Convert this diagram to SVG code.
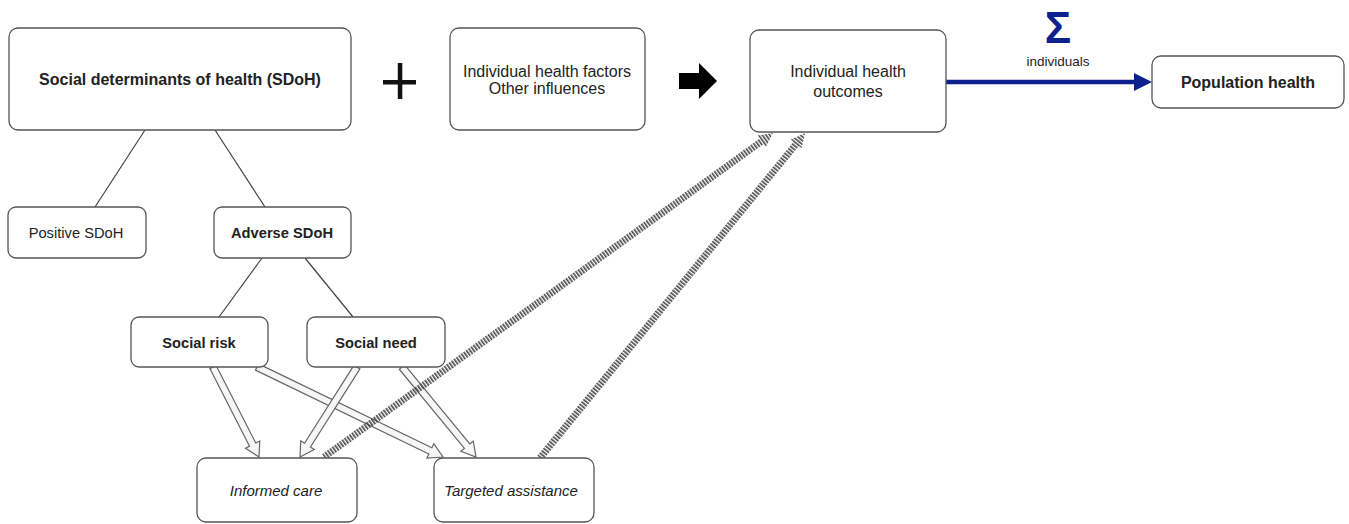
<svg xmlns="http://www.w3.org/2000/svg" width="1349" height="524" viewBox="0 0 1349 524">
<style>
.box{fill:#fff;stroke:#555;stroke-width:1.3}
.t{font-family:"Liberation Sans",Arial,sans-serif;font-size:16px;fill:#222;text-anchor:middle}
.b{font-weight:bold}
.i{font-style:italic;font-size:15px}
.s{font-size:14.7px}
.ln{stroke:#444;stroke-width:1.2;fill:none}
.hollow{fill:#f6f6f6;stroke:#666;stroke-width:1.2;stroke-linejoin:miter}
.hatch{fill:url(#hatch)}
</style>
<defs>
<pattern id="hatch" patternUnits="userSpaceOnUse" width="3" height="20" x="0" y="-10">
<rect x="0" y="0" width="1.6" height="20" fill="#444"/>
</pattern>
</defs>
<rect width="1349" height="524" fill="#fff"/>

<g id="connectors">
<line class="ln" x1="145" y1="130" x2="95" y2="207"/>
<line class="ln" x1="215" y1="130" x2="265" y2="207"/>
<line class="ln" x1="262" y1="258" x2="219" y2="317"/>
<line class="ln" x1="305" y1="258" x2="353" y2="317"/>
<path class="hollow" transform="translate(213,367) rotate(62.93)" d="M0,-3.5H87.1V-8L101.1,0L87.1,8V3.5H0Z"/>
<path class="hollow" transform="translate(257,367) rotate(25.82)" d="M0,-3.5H192.6V-8L206.6,0L192.6,8V3.5H0Z"/>
<path class="hollow" transform="translate(357,367) rotate(122.35)" d="M0,-3.5H92.5V-8L106.5,0L92.5,8V3.5H0Z"/>
<path class="hollow" transform="translate(402,367) rotate(50.57)" d="M0,-3.5H102.5V-8L116.5,0L102.5,8V3.5H0Z"/>
<path class="hatch" transform="translate(324,457) rotate(-35.81)" d="M0,-3.5H539.7V-7L553.7,0L539.7,7V3.5H0Z"/>
<path class="hatch" transform="translate(540,458) rotate(-50.80)" d="M0,-3.5H405.4V-7L419.4,0L405.4,7V3.5H0Z"/>
<line x1="946" y1="82" x2="1137" y2="82" stroke="#0e1f8e" stroke-width="4.5"/>
<polygon points="1134,73 1152,82 1134,91" fill="#0e1f8e"/>
<text x="1058" y="43" font-family="Liberation Sans,Arial,sans-serif" font-size="44" font-weight="bold" fill="#0e1f8e" text-anchor="middle">Σ</text>
<text class="t" x="1058" y="66" style="font-size:13.5px">individuals</text>
</g>

<g id="plus">
<rect x="383" y="80" width="33" height="4.5" fill="#111"/>
<rect x="397.8" y="63" width="4.5" height="36" fill="#111"/>
</g>
<g id="implies">
<polygon points="679,73 699,73 699,63 717,81 699,99 699,89 679,89" fill="#000"/>
</g>

<g id="sdoh"><rect class="box" x="9" y="28" width="342" height="102" rx="9"/><text class="t b" x="180" y="85">Social determinants of health (SDoH)</text></g>
<g id="factors"><rect class="box" x="450" y="28" width="195" height="102" rx="9"/><text class="t" x="547" y="77">Individual health factors</text><text class="t" x="547" y="94">Other influences</text></g>
<g id="outcomes"><rect class="box" x="750" y="30" width="196" height="102" rx="9"/><text class="t" x="848" y="77">Individual health</text><text class="t" x="848" y="97">outcomes</text></g>
<g id="population"><rect class="box" x="1152" y="56" width="192" height="52" rx="9"/><text class="t b" x="1248" y="88">Population health</text></g>
<g id="positive"><rect class="box" x="8" y="207" width="138" height="51" rx="8"/><text class="t s" x="76" y="238">Positive SDoH</text></g>
<g id="adverse"><rect class="box" x="214" y="207" width="137" height="51" rx="8"/><text class="t s b" x="282" y="238">Adverse SDoH</text></g>
<g id="risk"><rect class="box" x="131" y="317" width="137" height="50" rx="8"/><text class="t s b" x="199" y="348">Social risk</text></g>
<g id="need"><rect class="box" x="307" y="317" width="138" height="50" rx="8"/><text class="t s b" x="376" y="348">Social need</text></g>
<g id="informed"><rect class="box" x="197" y="458" width="160" height="64" rx="9"/><text class="t i" x="276" y="496">Informed care</text></g>
<g id="targeted"><rect class="box" x="434" y="458" width="160" height="64" rx="9"/><text class="t i" x="511" y="496">Targeted assistance</text></g>
</svg>
